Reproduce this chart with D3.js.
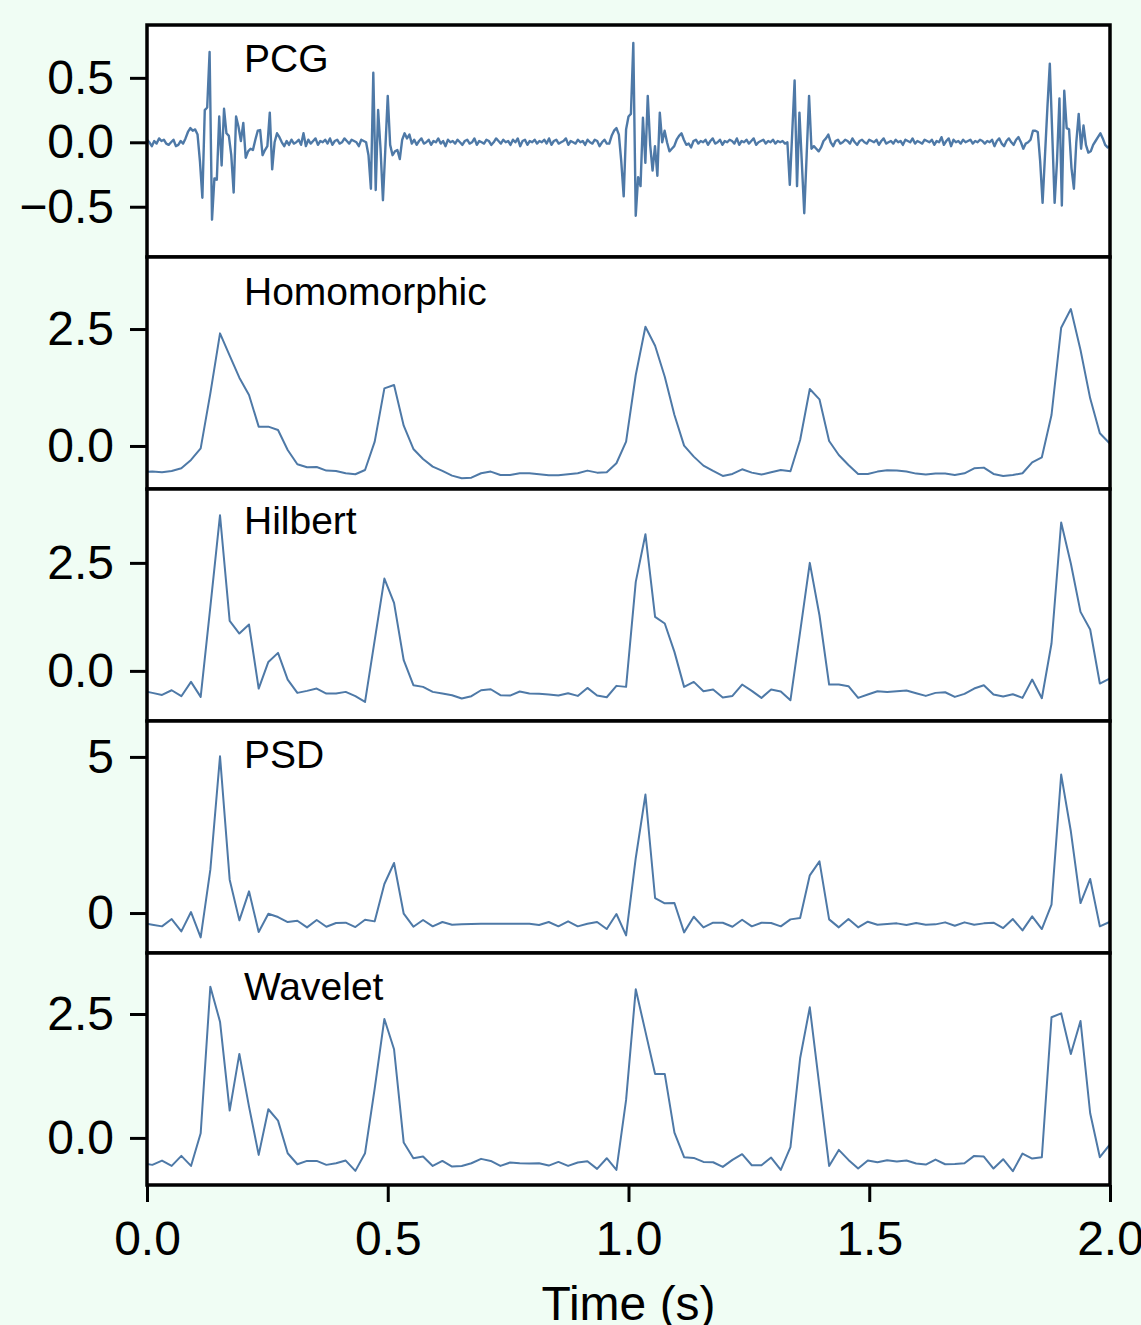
<!DOCTYPE html>
<html lang="en">
  <head>
    <meta charset="utf-8">
    <script src="https://d3js.org/d3.v7.min.js"></script>
    <style>
      body {margin: 0; background: #f0fdf4;}
      svg text {font-family: "Liberation Sans", Arial, Helvetica, sans-serif; fill: #000;}
    </style>
  </head>
  <body>
    <script type="text/javascript">
      // panel names and y ticks
      const panelNames = ["PCG", "Homomorphic", "Hilbert", "PSD", "Wavelet"];
      const xTicks = [0, 0.5, 1.0, 1.5, 2.0];
      const pcgTicks = [-0.5, 0, 0.5];
      const envTicks = [0, 2.5];
      const psdTicks = [0, 5];

      // raw PCG signal, one value every 5 ms
      const pcgStep = 0.005;
      const pcgValues = [
        0.02, 0.00, -0.03, 0.01, -0.01, 0.03, 0.01, 0.02, -0.01, -0.02,
        0.00, 0.02, -0.03, -0.02, 0.01, -0.01, 0.03, 0.08, 0.11, 0.09,
        0.10, 0.06, -0.15, -0.43, 0.25, 0.27, 0.70, -0.60, -0.28, -0.29,
        0.20, -0.18, 0.26, 0.07, 0.05, -0.10, -0.39, 0.20, 0.12, 0.01,
        0.15, -0.12, -0.07, -0.05, -0.06, 0.02, 0.09, 0.095, -0.10, -0.06,
        -0.03, 0.23, -0.21, 0.00, 0.07, 0.04, 0.00, -0.03, 0.01, -0.02,
        0.02, -0.01, 0.00, 0.02, -0.02, 0.07, -0.03, 0.02, -0.01, 0.01,
        0.03, -0.02, 0.01, 0.00, 0.02, -0.01, 0.03, -0.02, 0.01, 0.02,
        -0.01, 0.00, 0.03, 0.01, -0.01, 0.02, 0.01, 0.00, -0.03, 0.02,
        0.01, 0.00, -0.10, -0.36, 0.54, -0.37, 0.25, -0.05, -0.45, -0.05,
        0.36, -0.02, -0.10, -0.07, -0.06, -0.13, 0.02, 0.07, 0.03, 0.06,
        -0.01, 0.02, -0.02, 0.01, 0.03, -0.01, 0.00, 0.02, -0.02, 0.01,
        0.00, 0.03, -0.01, 0.01, -0.03, 0.02, 0.00, 0.01, -0.01, 0.02,
        0.00, -0.02, 0.01, 0.02, -0.01, 0.00, 0.03, -0.02, 0.01, 0.00,
        -0.01, 0.02, 0.01, -0.02, 0.00, 0.03, 0.01, -0.01, 0.02, 0.00,
        0.01, -0.02, 0.02, 0.00, 0.03, -0.03, 0.01, 0.02, -0.02, 0.01,
        0.00, 0.02, -0.01, 0.01, 0.00, 0.02, -0.01, 0.03, -0.02, 0.01,
        0.02, -0.01, 0.00, 0.01, 0.03, -0.02, 0.01, 0.00, -0.01, 0.02,
        0.00, 0.01, -0.02, 0.02, 0.00, -0.01, 0.02, 0.01, -0.03, 0.00,
        0.02, -0.01, -0.01, 0.05, 0.09, 0.11, 0.06, -0.15, -0.42, 0.10,
        0.20, 0.22, 0.77, -0.57, -0.27, -0.34, 0.19, -0.16, 0.36, -0.02,
        -0.22, -0.03, -0.26, 0.23, 0.00, 0.09, 0.00, -0.07, -0.05, -0.03,
        0.02, 0.05, 0.07, 0.02, -0.02, -0.01, -0.04, 0.01, 0.02, -0.01,
        0.01, 0.00, 0.02, -0.02, 0.01, 0.03, -0.01, 0.00, 0.02, -0.02,
        0.01, 0.00, 0.02, 0.01, -0.01, 0.03, -0.02, 0.01, 0.00, 0.02,
        -0.01, 0.01, 0.03, -0.02, 0.00, 0.01, 0.02, -0.01, 0.01, 0.00,
        0.02, -0.01, 0.01, 0.00, 0.01, -0.01, 0.00, -0.33, 0.07, 0.48,
        -0.34, 0.23, -0.16, -0.55, -0.10, 0.36, -0.05, -0.03, -0.05, -0.07,
        -0.04, 0.01, 0.03, 0.06, 0.00, -0.03, 0.01, 0.02, -0.01, 0.00,
        0.02, 0.01, -0.01, 0.03, 0.00, -0.02, 0.01, 0.02, 0.00, -0.01,
        0.02, 0.01, 0.00, 0.02, -0.02, 0.01, 0.03, -0.01, 0.00, 0.01,
        -0.01, 0.02, 0.00, 0.01, -0.02, 0.02, 0.01, 0.00, 0.03, -0.01,
        0.01, 0.00, -0.01, 0.02, 0.01, 0.00, 0.02, -0.02, 0.01, 0.00,
        0.04, -0.02, 0.01, 0.03, -0.03, 0.02, 0.00, 0.01, -0.01, 0.02,
        0.00, 0.01, 0.02, -0.01, 0.01, 0.00, 0.02, 0.01, -0.01, 0.01,
        0.00, 0.02, -0.03, 0.01, 0.03, -0.01, -0.03, 0.01, 0.03, 0.00,
        -0.02, 0.02, 0.04, 0.00, -0.05, -0.01, 0.00, 0.02, 0.09, 0.09,
        0.08, -0.15, -0.47, -0.10, 0.27, 0.61, 0.07, -0.47, -0.14, 0.34,
        -0.49, 0.40, 0.11, 0.10, -0.20, -0.36, 0.00, 0.22, -0.05, 0.13,
        -0.02, -0.08, -0.07, -0.02, 0.01, 0.04, 0.07, 0.03, -0.02, -0.04,
        -0.03
      ];

      // envelopes, one value every ~20 ms
      const envStart = -0.009;
      const envStep = 0.02008;
      const homomorphic = [
        -0.55, -0.548, -0.563, -0.534, -0.477, -0.299, -0.050, 1.126, 2.407, 1.930,
        1.460, 1.090, 0.413, 0.413, 0.342, -0.085, -0.392, -0.456, -0.449, -0.527,
        -0.534, -0.584, -0.605, -0.513, 0.093, 1.232, 1.303, 0.434, -0.064, -0.278,
        -0.442, -0.534, -0.634, -0.691, -0.677, -0.584, -0.548, -0.620, -0.620, -0.584,
        -0.584, -0.605, -0.627, -0.627, -0.605, -0.584, -0.527, -0.570, -0.563, -0.370,
        0.093, 1.517, 2.549, 2.143, 1.481, 0.662, 0.007, -0.228, -0.420, -0.534,
        -0.641, -0.598, -0.499, -0.570, -0.612, -0.563, -0.513, -0.541, 0.128, 1.218,
        0.997, 0.107, -0.192, -0.406, -0.598, -0.598, -0.548, -0.520, -0.527, -0.548,
        -0.591, -0.612, -0.591, -0.591, -0.620, -0.584, -0.477, -0.463, -0.598, -0.641,
        -0.620, -0.584, -0.349, -0.242, 0.662, 2.528, 2.927, 2.051, 1.018, 0.271,
        0.057
      ];
      const hilbert = [
        -0.46, -0.509, -0.556, -0.448, -0.586, -0.255, -0.602, 1.481, 3.603, 1.157,
        0.864, 1.073, -0.409, 0.208, 0.417, -0.201, -0.509, -0.463, -0.409, -0.525,
        -0.525, -0.486, -0.586, -0.718, 0.710, 2.137, 1.574, 0.247, -0.332, -0.370,
        -0.486, -0.525, -0.563, -0.640, -0.586, -0.448, -0.425, -0.563, -0.571, -0.478,
        -0.525, -0.532, -0.548, -0.571, -0.517, -0.579, -0.394, -0.571, -0.610, -0.347,
        -0.370, 2.060, 3.164, 1.250, 1.096, 0.440, -0.370, -0.255, -0.471, -0.432,
        -0.617, -0.579, -0.316, -0.463, -0.625, -0.432, -0.478, -0.679, 0.903, 2.500,
        1.288, -0.316, -0.316, -0.355, -0.625, -0.548, -0.471, -0.486, -0.471, -0.455,
        -0.517, -0.579, -0.509, -0.494, -0.602, -0.532, -0.409, -0.332, -0.548, -0.594,
        -0.540, -0.625, -0.201, -0.633, 0.633, 3.434, 2.485, 1.366, 0.957, -0.293,
        -0.177
      ];
      const psd = [
        -0.32, -0.374, -0.427, -0.192, -0.588, 0.032, -0.780, 1.389, 5.021, 1.068,
        -0.235, 0.695, -0.609, -0.021, -0.128, -0.288, -0.246, -0.459, -0.224, -0.438,
        -0.321, -0.310, -0.449, -0.214, -0.267, 0.929, 1.603, -0.021, -0.438, -0.224,
        -0.427, -0.288, -0.374, -0.363, -0.353, -0.342, -0.342, -0.342, -0.342, -0.342,
        -0.342, -0.385, -0.288, -0.427, -0.267, -0.427, -0.342, -0.288, -0.513, -0.032,
        -0.716, 1.763, 3.793, 0.481, 0.310, 0.321, -0.620, -0.118, -0.459, -0.310,
        -0.310, -0.438, -0.214, -0.427, -0.310, -0.321, -0.427, -0.203, -0.160, 1.207,
        1.656, -0.203, -0.459, -0.192, -0.459, -0.278, -0.374, -0.353, -0.331, -0.385,
        -0.321, -0.374, -0.363, -0.299, -0.406, -0.299, -0.374, -0.331, -0.310, -0.481,
        -0.192, -0.556, -0.107, -0.513, 0.267, 4.434, 2.618, 0.321, 1.090, -0.427,
        -0.288
      ];
      const wavelet = [
        -0.51, -0.544, -0.457, -0.565, -0.363, -0.565, 0.094, 3.051, 2.345, 0.551,
        1.694, 0.632, -0.343, 0.578, 0.349, -0.309, -0.531, -0.464, -0.464, -0.544,
        -0.511, -0.457, -0.665, -0.309, 1.001, 2.399, 1.788, -0.094, -0.410, -0.376,
        -0.565, -0.464, -0.578, -0.565, -0.511, -0.423, -0.464, -0.565, -0.497, -0.511,
        -0.517, -0.511, -0.558, -0.484, -0.565, -0.497, -0.470, -0.625, -0.410, -0.645,
        0.766, 2.997, 2.144, 1.290, 1.290, 0.108, -0.390, -0.403, -0.484, -0.491,
        -0.585, -0.444, -0.329, -0.551, -0.551, -0.396, -0.645, -0.188, 1.606, 2.634,
        1.035, -0.565, -0.242, -0.444, -0.618, -0.457, -0.491, -0.450, -0.477, -0.457,
        -0.517, -0.538, -0.437, -0.531, -0.524, -0.511, -0.363, -0.376, -0.618, -0.430,
        -0.672, -0.316, -0.417, -0.390, 2.433, 2.513, 1.694, 2.359, 0.497, -0.390,
        -0.141
      ];

      // y limits of every panel
      const yDomains = [[-0.89, 0.91], [-0.92, 4.04], [-1.16, 4.21], [-1.28, 6.15], [-0.95, 3.73]];

      // size constants
      const w = 1141;
      const h = 1325;
      const plotLeft = 147;
      const plotRight = 1110;
      const plotTop = 25;
      const panelH = 232;
      const lineColor = "#4e79a7";

      const pcgTime = pcgValues.map((d, i) => i * pcgStep);
      const envTime = homomorphic.map((d, i) => envStart + i * envStep);

      const panels = [
        {time: pcgTime, values: pcgValues, ticks: pcgTicks, fmt: d3.format(".1f"), labelDy: 47, width: 2.4},
        {time: envTime, values: homomorphic, ticks: envTicks, fmt: d3.format(".1f"), labelDy: 48, width: 2},
        {time: envTime, values: hilbert, ticks: envTicks, fmt: d3.format(".1f"), labelDy: 45, width: 2},
        {time: envTime, values: psd, ticks: psdTicks, fmt: d3.format("d"), labelDy: 47, width: 2},
        {time: envTime, values: wavelet, ticks: envTicks, fmt: d3.format(".1f"), labelDy: 47, width: 2}
      ];

      const svg = d3.select("body")
        .append("svg")
        .attr("width", w)
        .attr("height", h)
        .style("display", "block");

      const x = d3.scaleLinear().domain([0, 2]).range([plotLeft, plotRight]);

      panels.forEach(function(p, i) {
        const y0 = plotTop + i * panelH;
        const y = d3.scaleLinear()
          .domain(yDomains[i])
          .range([y0 + panelH, y0]);

        const g = svg.append("g");

        g.append("rect")
          .attr("x", plotLeft).attr("y", y0)
          .attr("width", plotRight - plotLeft).attr("height", panelH)
          .attr("fill", "#fff");

        g.append("clipPath")
          .attr("id", "clip" + i)
          .append("rect")
          .attr("x", plotLeft).attr("y", y0)
          .attr("width", plotRight - plotLeft).attr("height", panelH);

        const line = d3.line()
          .x((d, j) => x(p.time[j]))
          .y(d => y(d));

        g.append("path")
          .datum(p.values)
          .attr("clip-path", "url(#clip" + i + ")")
          .attr("fill", "none")
          .attr("stroke", lineColor)
          .attr("stroke-width", p.width)
          .attr("stroke-linejoin", "round")
          .attr("d", line);

        g.append("text")
          .attr("x", 244)
          .attr("y", y0 + p.labelDy)
          .attr("font-size", 39)
          .text(panelNames[i]);

        // y axis
        g.append("g")
          .attr("transform", "translate(" + plotLeft + ",0)")
          .call(d3.axisLeft(y).tickValues(p.ticks).tickFormat(p.fmt).tickSize(17).tickPadding(16))
          .call(a => a.select(".domain").remove())
          .call(a => a.selectAll("line").attr("stroke", "#000").attr("stroke-width", 3))
          .call(a => a.selectAll("text").attr("font-size", 48).attr("font-family", null));

        g.append("rect")
          .attr("x", plotLeft).attr("y", y0)
          .attr("width", plotRight - plotLeft).attr("height", panelH)
          .attr("fill", "none")
          .attr("stroke", "#000")
          .attr("stroke-width", 3.5);
      });

      // x axis under the last panel
      svg.append("g")
        .attr("transform", "translate(0," + (plotTop + 5 * panelH) + ")")
        .call(d3.axisBottom(x).tickValues(xTicks).tickFormat(d3.format(".1f")).tickSize(17).tickPadding(19))
        .call(a => a.select(".domain").remove())
        .call(a => a.selectAll("line").attr("stroke", "#000").attr("stroke-width", 3))
        .call(a => a.selectAll("text").attr("font-size", 48).attr("font-family", null));

      svg.append("text")
        .attr("x", (plotLeft + plotRight) / 2)
        .attr("y", 1320)
        .attr("text-anchor", "middle")
        .attr("font-size", 48)
        .text("Time (s)");
    </script>
  </body>
</html>
